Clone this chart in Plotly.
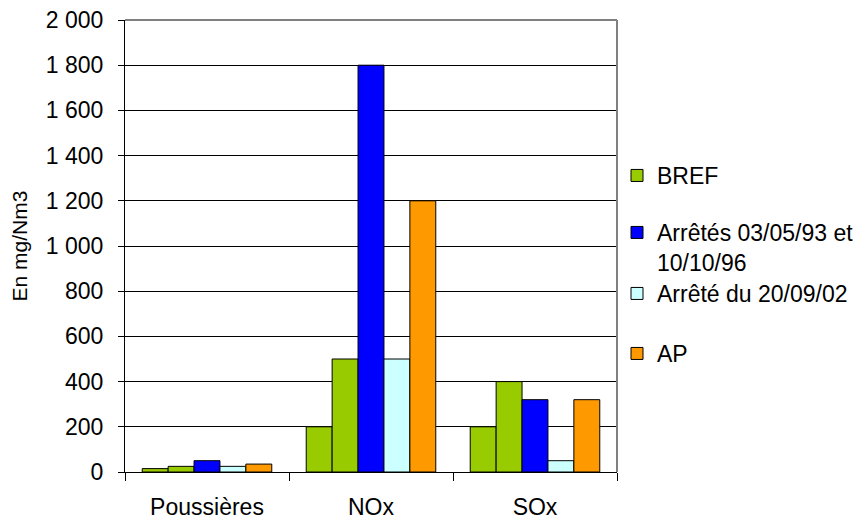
import plotly.graph_objects as go

# -----------------------------
# Data (en mg/Nm3)
# -----------------------------
categories = ["Poussières", "NOx", "SOx"]

bref_min = [15, 200, 200]
bref_max = [25, 500, 400]
arretes_93_96 = [50, 1800, 320]
arrete_2002 = [25, 500, 50]
ap = [35, 1200, 320]

y_ticks = [0, 200, 400, 600, 800, 1000, 1200, 1400, 1600, 1800, 2000]

FONT = "Liberation Sans, Arial, sans-serif"
W, H = 868, 520

fig = go.Figure()

def add_bar(name, values, color, legend, showlegend=True):
    fig.add_trace(go.Bar(
        x=categories,
        y=values,
        name=name,
        marker=dict(color=color, line=dict(color="black", width=1)),
        legend=legend,
        showlegend=showlegend,
    ))

add_bar("BREF", bref_min, "#99CC00", "legend")
add_bar("BREF", bref_max, "#99CC00", "legend", showlegend=False)
add_bar("Arrêtés 03/05/93 et<br>10/10/96", arretes_93_96, "#0000FF", "legend2")
add_bar("Arrêté du 20/09/02", arrete_2002, "#CCFFFF", "legend3")
add_bar("AP", ap, "#FF9900", "legend4")

# one legend per item so the spacing looks like the Excel original
def legend_at(px_top):
    return dict(
        xref="container", yref="container",
        x=617 / W, y=1 - px_top / H,
        xanchor="left", yanchor="top",
        bgcolor="rgba(0,0,0,0)",
        font=dict(family=FONT, size=23, color="black"),
        valign="top",
    )

fig.update_layout(
    template="none",
    width=W,
    height=H,
    barmode="group",
    bargap=0.21,
    bargroupgap=0,
    separators=", ",
    plot_bgcolor="white",
    paper_bgcolor="white",
    font=dict(family=FONT, size=23, color="black"),
    margin=dict(l=125, r=249, t=20, b=48, pad=0),
    legend=legend_at(154),
    legend2=legend_at(211),
    legend3=legend_at(272),
    legend4=legend_at(332),
    xaxis=dict(
        automargin=False,
        showline=True,
        linecolor="black",
        linewidth=1,
        ticks="outside",
        tickson="boundaries",
        ticklen=8,
        tickcolor="black",
        ticklabelstandoff=14,
        showgrid=False,
    ),
    yaxis=dict(
        automargin=False,
        range=[0, 2000],
        tickvals=y_ticks,
        tickformat=",d",
        showline=True,
        linecolor="black",
        linewidth=1,
        ticks="outside",
        ticklen=6,
        tickcolor="black",
        ticklabelstandoff=10,
        showgrid=True,
        gridcolor="black",
        gridwidth=1,
        zeroline=False,
        title=dict(text="En mg/Nm3", standoff=12, font=dict(size=21)),
    ),
    shapes=[
        # grey frame on top and right of the plot area
        dict(type="line", xref="paper", yref="paper", x0=0, x1=1, y0=1, y1=1,
             line=dict(color="#808080", width=2)),
        dict(type="line", xref="paper", yref="paper", x0=1, x1=1, y0=0, y1=1,
             line=dict(color="#808080", width=2)),
    ],
)

# the page body has a default 8px margin, drop it so the chart sits at 0,0
fig.write_html(
    "out.html",
    config={"displayModeBar": False},
    post_script="document.body.style.margin = '0px';",
)
